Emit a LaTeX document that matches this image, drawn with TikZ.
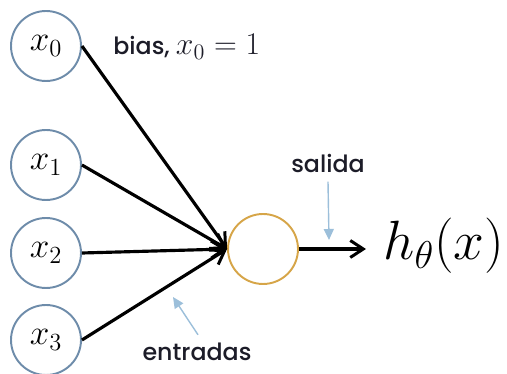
\RequirePackage{fix-cm}
\documentclass[tikz,border=0pt]{standalone}
\usepackage{fontspec}
\setmainfont{Poppins}[UprightFont={* Medium}]
\usetikzlibrary{arrows.meta}
\definecolor{slate}{HTML}{6E8CAA}
\definecolor{gold}{HTML}{D6A548}
\definecolor{skyline}{HTML}{9CBFDA}
\definecolor{ink}{HTML}{1C1C28}
\tikzset{
  inputnode/.style={circle,draw=slate,line width=1.1pt,minimum size=1.4cm,
    inner sep=0pt,font=\fontsize{20}{22}\selectfont},
  neuron/.style={circle,draw=gold,line width=1.1pt,minimum size=1.4cm,inner sep=0pt},
  arrow/.style={-{Straight Barb[length=2.6mm,width=3.4mm,line width=1.7pt]},line width=1.8pt,draw=black},
  hint/.style={-{Triangle[length=2.2mm,width=2mm]},line width=0.8pt,draw=skyline},
  tag/.style={font=\fontsize{13.5}{16}\selectfont,text=ink,inner sep=0pt}
}
\begin{document}
\begin{tikzpicture}[x=0.02cm,y=-0.02cm]
  \useasboundingbox (0,0) rectangle (507,374);
  \node[inputnode] (x0) at (46,46) {$x_0$};
  \node[inputnode] (x1) at (46,165) {$x_1$};
  \node[inputnode] (x2) at (46,253) {$x_2$};
  \node[inputnode] (x3) at (46,340) {$x_3$};
  \node[neuron] (sum) at (263,249) {};
  \node[font=\fontsize{31.5}{34}\selectfont,anchor=west,inner sep=0pt] (out) at (383,246) {$h_\theta(x)$};
  \node[tag,anchor=west] (bias) at (113,47) {bias, {\fontsize{18}{20}\selectfont$x_0 = 1$}};
  \node[tag] (salida) at (328,163) {salida};
  \node[tag] (entradas) at (197,352) {entradas};
  \coordinate (tip) at (366,249);
  \coordinate (salpt) at (329,240);
  \coordinate (entpt) at (173,297);
  \foreach \i in {0,...,3}
    \draw[arrow] (x\i.east) -- (sum.west);
  \draw[arrow] (sum.east) -- (tip);
  \draw[hint] (salida.south) ++(0,9) -- (salpt);
  \draw[hint] (entradas.north) ++(1,-8) -- (entpt);
\end{tikzpicture}
\end{document}
